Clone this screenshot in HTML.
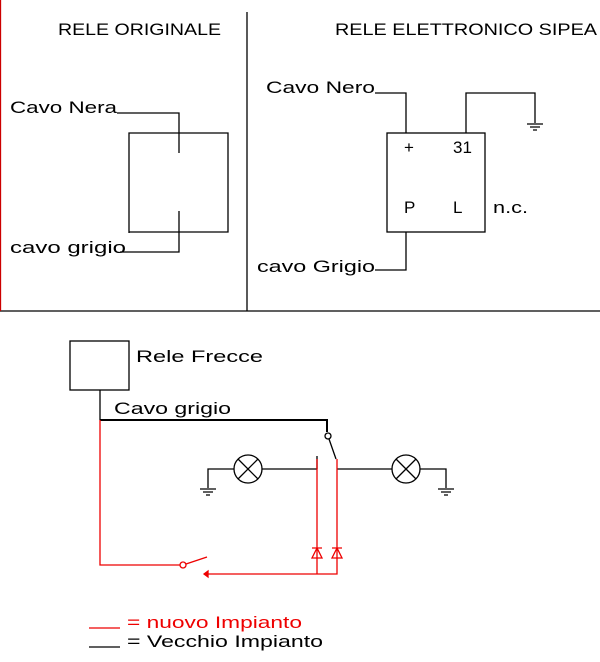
<!DOCTYPE html>
<html><head><style>body{margin:0;background:#fff}svg{display:block}text{font-family:"Liberation Sans",sans-serif;font-size:17px}</style></head>
<body>
<svg width="600" height="662" viewBox="0 0 600 662" xmlns="http://www.w3.org/2000/svg">
<g stroke="#000" stroke-width="1.3" fill="none">
<line x1="0" y1="311" x2="600" y2="311"/>
<line x1="247" y1="12" x2="247" y2="311"/>
<line x1="0.5" y1="0" x2="0.5" y2="311" stroke="#c00"/>
<path d="M129 233V133H228V232H129"/>
<path d="M117 113H179V153 M179 211V252H120"/>
<rect x="387" y="133" width="98" height="99"/>
<path d="M375 93H406V133 M466 133V93H535V123 M406 232V270H375"/>
<path d="M527 124H543 M530 127H540 M533 130H537"/>
<rect x="70" y="341" width="59" height="49"/>
<path d="M100 390V420"/>
<path d="M100 420H327V432" stroke-width="2"/>
<circle cx="328" cy="436" r="3"/>
<path d="M329 439L336 459"/>
<path d="M208 488V469H234 M262 469H317 M317 456V469"/>
<path d="M337 469H392 M420 469H446V488"/>
<circle cx="248" cy="469" r="14"/><path d="M238 459L258 479M258 459L238 479"/>
<circle cx="406" cy="469" r="14"/><path d="M396 459L416 479M416 459L396 479"/>
<path d="M200 489H216 M203 492H213 M206 495H210"/>
<path d="M438 489H454 M441 492H451 M444 495H448"/>
<line x1="89" y1="647" x2="120" y2="647"/>
</g>
<g stroke="#e00" stroke-width="1.3" fill="none">
<path d="M100 420V565H180"/>
<circle cx="183" cy="565" r="3"/>
<path d="M186 564L207 557"/>
<path d="M206 574H337V459 M317 459V574"/>
<path d="M204 574l4-3v6z" fill="#e00"/>
<path d="M312 548H322 M317 548L312 558H322Z M332 548H342 M337 548L332 558H342Z"/>
<line x1="89" y1="628" x2="120" y2="628"/>
</g>
<g fill="#000">
<text x="58" y="35" textLength="163" lengthAdjust="spacingAndGlyphs">RELE ORIGINALE</text>
<text x="335" y="35" textLength="262" lengthAdjust="spacingAndGlyphs">RELE ELETTRONICO SIPEA</text>
<text x="10" y="113" textLength="107" lengthAdjust="spacingAndGlyphs">Cavo Nera</text>
<text x="10" y="253" textLength="116" lengthAdjust="spacingAndGlyphs">cavo grigio</text>
<text x="266" y="93" textLength="109" lengthAdjust="spacingAndGlyphs">Cavo Nero</text>
<text x="257" y="272" textLength="118" lengthAdjust="spacingAndGlyphs">cavo Grigio</text>
<text x="404" y="153">+</text>
<text x="453" y="153">31</text>
<text x="404" y="213">P</text>
<text x="453" y="213">L</text>
<text x="493" y="213" textLength="35" lengthAdjust="spacingAndGlyphs">n.c.</text>
<text x="136" y="362" textLength="127" lengthAdjust="spacingAndGlyphs">Rele Frecce</text>
<text x="114" y="414" textLength="117" lengthAdjust="spacingAndGlyphs">Cavo grigio</text>
<text x="127" y="647" textLength="196" lengthAdjust="spacingAndGlyphs">= Vecchio Impianto</text>
</g>
<text x="127" y="628" fill="#e00" textLength="175" lengthAdjust="spacingAndGlyphs">= nuovo Impianto</text>
</svg>
</body></html>
